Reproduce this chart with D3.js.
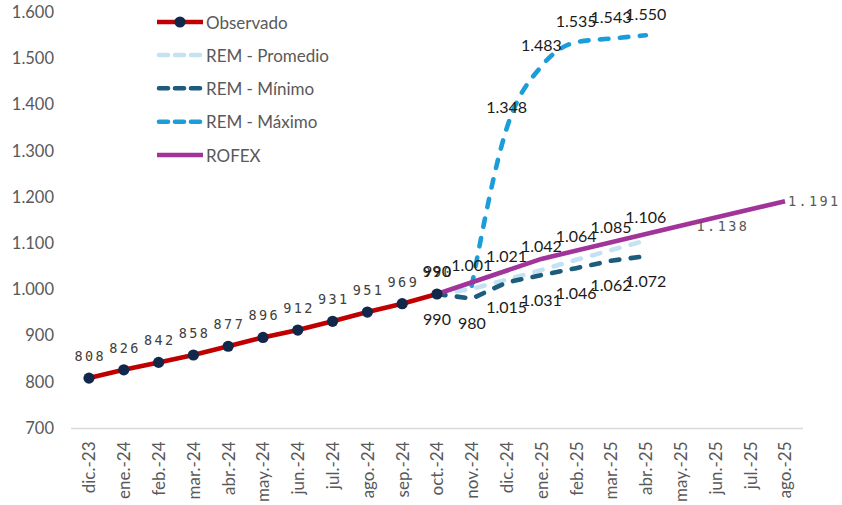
<!DOCTYPE html>
<html>
<head>
<meta charset="utf-8">
<script src="https://cdn.jsdelivr.net/npm/d3@7/dist/d3.min.js"></script>
<style>
  html, body { margin: 0; padding: 0; background: #ffffff; }
  svg { display: block; }
</style>
</head>
<body>
<svg id="chart" width="842" height="505"></svg>
<script>
// Months on the x axis
const categories = ["dic.-23","ene.-24","feb.-24","mar.-24","abr.-24","may.-24","jun.-24","jul.-24",
  "ago.-24","sep.-24","oct.-24","nov.-24","dic.-24","ene.-25","feb.-25","mar.-25","abr.-25",
  "may.-25","jun.-25","jul.-25","ago.-25"];

// Series (null = no value for that month)
const observado   = [808, 826, 842, 858, 877, 896, 912, 931, 951, 969, 990, null, null, null, null, null, null, null, null, null, null];
const remPromedio = [null, null, null, null, null, null, null, null, null, null, 990, 1001, 1021, 1042, 1064, 1085, 1106, null, null, null, null];
const remMinimo   = [null, null, null, null, null, null, null, null, null, null, 990, 980, 1015, 1031, 1046, 1062, 1072, null, null, null, null];
const remMaximo   = [null, null, null, null, null, null, null, null, null, null, null, 1008, 1348, 1483, 1535, 1543, 1550, null, null, null, null];
const rofex       = [null, null, null, null, null, null, null, null, null, null, 990, null, null, 1066, null, null, null, 1138, null, null, 1191];

// Months whose value is printed next to the point
const rofexLabelled  = ["may.-25", "ago.-25"];
const maximoLabelled = ["dic.-24", "ene.-25", "feb.-25", "mar.-25", "abr.-25"];

const yTicks = [700, 800, 900, 1000, 1100, 1200, 1300, 1400, 1500, 1600];

const svg = d3.select("#chart");
const sansFont = "Lato, 'Noto Sans', sans-serif";
const monoFont = "'DejaVu Sans Mono', monospace";

const x = d3.scalePoint().domain(categories).range([89, 785]);
const y = d3.scaleLinear().domain([700, 1600]).range([428, 12.2]);

const locale = d3.formatLocale({ decimal: ",", thousands: ".", grouping: [3], currency: ["$", ""] });
const fmt = locale.format(",d");

// Y axis labels (no axis line)
const yAxis = d3.axisLeft(y).tickValues(yTicks).tickFormat(fmt).tickSize(0).tickPadding(0);
const gy = svg.append("g").attr("transform", "translate(54,0)").call(yAxis);
gy.select(".domain").remove();
gy.selectAll("text")
  .attr("fill", "#595959").style("font-family", sansFont).style("font-size", "16.5px");

// X axis: baseline plus rotated month labels
const xAxis = d3.axisBottom(x).tickSize(0).tickPadding(0);
const gx = svg.append("g").attr("transform", "translate(0,428)").call(xAxis);
gx.select(".domain").remove();
svg.append("line")
  .attr("x1", 71).attr("x2", 803).attr("y1", 428.5).attr("y2", 428.5)
  .attr("stroke", "#d9d9d9").attr("stroke-width", 1.3);
gx.selectAll("text")
  .attr("fill", "#595959").style("font-family", sansFont).style("font-size", "17px")
  .attr("text-anchor", "end").attr("dy", "0.35em")
  .attr("transform", "translate(0,13.5) rotate(-90)").attr("x", 0).attr("y", 0);

const pts = arr => categories.map((c, i) => ({ c, v: arr[i] })).filter(d => d.v != null);

const lineStraight = d3.line().x(d => x(d.c)).y(d => y(d.v));
const lineSmooth = d3.line().x(d => x(d.c)).y(d => y(d.v)).curve(d3.curveMonotoneX);

const dash = "8.5,11.5";
const series = [
  { name: "Observado",       data: observado,   color: "#c00000", dash: null, gen: lineStraight },
  { name: "REM - Promedio",  data: remPromedio, color: "#c4e2f4", dash: dash, gen: lineStraight },
  { name: "REM - Mínimo",    data: remMinimo,   color: "#1d5c7d", dash: dash, gen: lineStraight },
  { name: "REM - Máximo",    data: remMaximo,   color: "#1a9dd8", dash: dash, gen: lineSmooth },
  { name: "ROFEX",           data: rofex,       color: "#a2339b", dash: null, gen: lineStraight }
];

series.forEach(s => {
  svg.append("path")
    .datum(pts(s.data))
    .attr("d", s.gen)
    .attr("fill", "none")
    .attr("stroke", s.color)
    .attr("stroke-width", 4.6)
    .attr("stroke-linecap", s.dash ? "round" : "butt")
    .attr("stroke-linejoin", "round")
    .attr("stroke-dasharray", s.dash);
});

// Observado markers
svg.append("g").selectAll("circle")
  .data(pts(observado))
  .join("circle")
  .attr("cx", d => x(d.c)).attr("cy", d => y(d.v)).attr("r", 5.6)
  .attr("fill", "#12284a");

// Data labels
function labels(data, opts) {
  svg.append("g").selectAll("text")
    .data(data)
    .join("text")
    .attr("x", d => x(d.c) + (typeof opts.dx === "function" ? opts.dx(d) : (opts.dx || 0)))
    .attr("y", d => y(d.v) + opts.dy)
    .attr("text-anchor", opts.anchor || "middle")
    .attr("dominant-baseline", "central")
    .attr("fill", opts.color)
    .style("font-family", opts.font)
    .style("font-size", opts.size)
    .style("letter-spacing", opts.spacing || "0px")
    .text(d => fmt(d.v));
}

labels(pts(observado), { dy: -22, color: "#404040", font: monoFont, size: "13.5px", spacing: "2.4px", dx: 1.2 });
labels(pts(remPromedio), { dy: -24, color: "#1a1a1a", font: sansFont, size: "16px" });
labels(pts(remMinimo), { dy: 24, color: "#1a1a1a", font: sansFont, size: "16px" });
labels(pts(remMaximo).filter(d => maximoLabelled.includes(d.c)), { dy: -22, color: "#1a1a1a", font: sansFont, size: "16px" });
labels(pts(rofex).filter(d => rofexLabelled.includes(d.c)), {
  dy: 0, dx: d => (d.c === "may.-25" ? 16 : 3), anchor: "start",
  color: "#595959", font: monoFont, size: "13.5px", spacing: "2.4px"
});

// Legend
const legend = svg.append("g");
const rowY = [22, 55, 88.3, 121.7, 155];
series.forEach((s, i) => {
  const g = legend.append("g").attr("transform", `translate(0,${rowY[i]})`);
  g.append("line")
    .attr("x1", s.dash ? 159 : 157).attr("x2", s.dash ? 201 : 203).attr("y1", 0).attr("y2", 0)
    .attr("stroke", s.color).attr("stroke-width", 4.6)
    .attr("stroke-linecap", s.dash ? "round" : "butt")
    .attr("stroke-dasharray", s.dash ? "9,7" : null);
  if (i === 0) {
    g.append("circle").attr("cx", 180).attr("cy", 0).attr("r", 5.6).attr("fill", "#12284a");
  }
  g.append("text")
    .attr("x", 206).attr("y", 0)
    .attr("dominant-baseline", "central")
    .attr("fill", "#595959")
    .style("font-family", sansFont).style("font-size", "17px")
    .text(s.name);
});
</script>
</body>
</html>
